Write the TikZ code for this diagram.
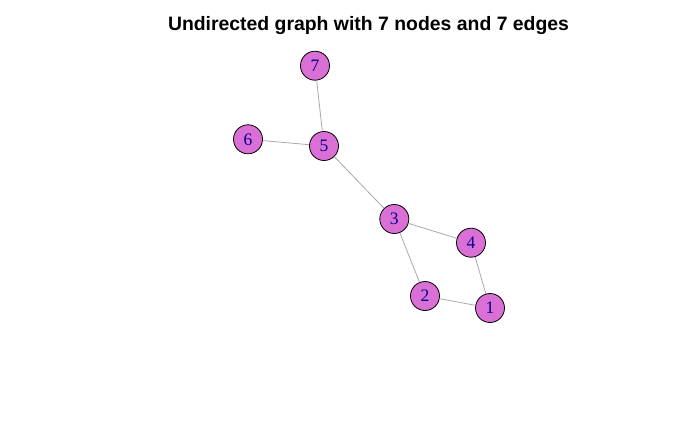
\documentclass[tikz,border=0pt]{standalone}
\usepackage{fontspec}
\setmainfont{Liberation Serif}
\newfontfamily\titlefont{Liberation Sans}
\definecolor{orchidR}{RGB}{218,112,214}
\definecolor{edgeR}{RGB}{169,169,169}
\definecolor{labR}{RGB}{0,0,139}
\begin{document}
\begin{tikzpicture}[x=1pt,y=-1pt,
  vtx/.style={circle,draw=black,line width=0.8pt,fill=orchidR,minimum size=29pt,inner sep=0pt,
    text=labR,font=\fontsize{17.5}{17.5}\selectfont},
  edg/.style={draw=edgeR,line width=0.8pt}]
\useasboundingbox (0,0) rectangle (700,432);
\node[font=\titlefont\bfseries\fontsize{19.4}{21}\selectfont,anchor=base] (title) at (368.5,30) {Undirected graph with 7 nodes and 7 edges};
\node[vtx] (n1) at (490,308) {1};
\node[vtx] (n2) at (425,296) {2};
\node[vtx] (n3) at (394.3,219) {3};
\node[vtx] (n4) at (471,242.7) {4};
\node[vtx] (n5) at (324,146) {5};
\node[vtx] (n6) at (248,139.3) {6};
\node[vtx] (n7) at (315,65.7) {7};
\draw[edg] (n7) -- (n5);
\draw[edg] (n6) -- (n5);
\draw[edg] (n5) -- (n3);
\draw[edg] (n3) -- (n4);
\draw[edg] (n3) -- (n2);
\draw[edg] (n4) -- (n1);
\draw[edg] (n2) -- (n1);
\end{tikzpicture}
\end{document}
